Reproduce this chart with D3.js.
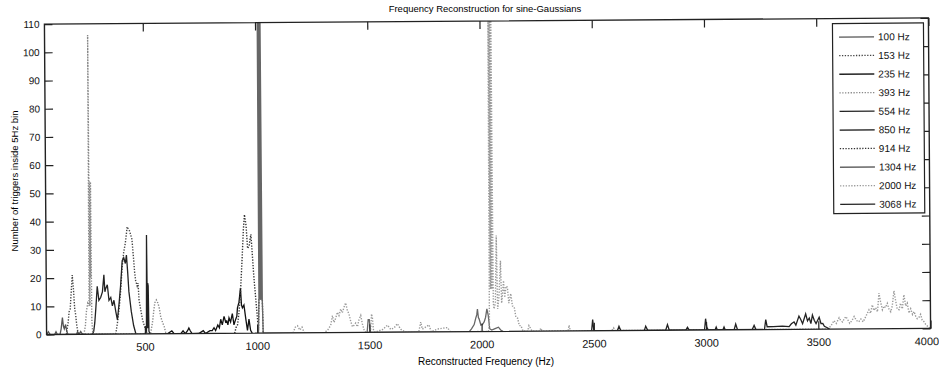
<!DOCTYPE html>
<html>
<head>
<meta charset="utf-8">
<script src="https://cdn.jsdelivr.net/npm/d3@7"></script>
<style>
body { margin: 0; background: #fff; }
svg { font-family: "Liberation Sans", Arial, sans-serif; }
</style>
</head>
<body>
<svg id="svg" width="939" height="373"></svg>
<script>
// legend names, one per series
var names = ["100 Hz", "153 Hz", "235 Hz", "393 Hz", "554 Hz", "850 Hz", "914 Hz", "1304 Hz", "2000 Hz", "3068 Hz"];

// [reconstructed frequency (Hz), triggers in 5Hz bin]
var s100 = [[62,0],[70,1],[78,0],[98,0],[104,1],[110,0],[122,0],[127,2],[133,6],[137,3],[141,2],[147,3.5],[152,1],[158,0],[195,0],[200,1],[206,0],[214,1],[222,0]];
var s153 = [[150,0],[158,4],[163,8],[168,9],[172,14],[178,21],[183,16],[188,9],[192,7],[197,3],[203,0],[370,0],[378,4],[386,9],[393,15],[401,24],[408,29],[415,32],[420,35],[424,38],[430,37],[435,36.5],[440,35],[445,33.6],[452,26.4],[456,22],[460,19],[467,17],[471,18],[475,12],[482,8.6],[490,5],[497,3],[505,1],[512,0]];
var s235 = [[266,0],[272,1],[277,4],[282,9],[289,17],[296,12],[304,13],[312,15],[319,21],[323,15],[326,16],[334,17.5],[341,12],[349,13],[356,10],[363,12],[371,8],[378,5],[386,11],[393,17],[401,26],[408,27],[415,25],[420,28],[425,22],[430,15],[440,8],[450,3],[460,0]];
var s393 = [[228,0],[235,3],[240,8],[246,11],[252,10],[254,106],[256,10],[258,54],[260,20],[262,54],[264,5],[268,0],[525,0],[534,4],[540,8],[545,11],[552,12],[558,11],[564,9.5],[571,6],[579,4],[586,2.6],[594,0]];
var s554 = [[500,0],[507,1],[510,35],[512,2],[514,18],[516,17],[518,1],[522,0]];
var s850 = [[600,0],[620,1],[630,0],[660,0],[670,1],[680,0],[690,1],[696,2],[702,1],[710,0],[740,0],[760,1],[770,0],[790,1],[800,1],[808,2],[815,1],[825,3],[832,2],[838,5],[845,3],[853,6],[860,4],[865,4.4],[870,3],[875,5.5],[882,4],[890,7],[897,3],[905,5],[910,6],[913,9],[920,11],[927,16],[931,10],[935,9],[942,10],[950,5],[957,1],[964,5],[971,1],[978,0]];
var s914 = [[900,0],[906,2],[913,3],[920,7.5],[927,14.6],[935,26],[942,37],[947,42],[954,38],[960,30],[967,31],[975,35],[980,29],[987,20],[994,13],[1002,5],[1006,1],[1009,12],[1024,12],[1027,0]];
var s1304 = [[1006,0],[1009,12],[1010,130],[1012,12],[1014,130],[1016,12],[1018,130],[1020,12],[1022,130],[1024,11],[1027,0],[1490,0],[1495,4.5],[1500,4.5],[1505,0],[1945,0],[1955,1],[1967,2.5],[1974,4.7],[1979,6],[1982,8],[1986,5],[1989,4.5],[1997,2.3],[2004,2.5],[2012,3.5],[2018,5],[2024,8],[2030,5.7],[2036,1],[2045,0.5],[2060,1],[2075,1.5],[2085,0.5],[2095,0]];
var s2000 = [[1160,0],[1170,2],[1180,2.5],[1190,1],[1200,2],[1210,0],[1300,0],[1315,1],[1328,2.6],[1336,6],[1343,3.6],[1350,5],[1358,7.2],[1365,6],[1373,8.3],[1380,7],[1388,9],[1395,10.5],[1402,8],[1410,6.4],[1417,4],[1425,2],[1432,2.5],[1439,3.3],[1447,2],[1454,4.5],[1462,6],[1469,3],[1476,1],[1484,0],[1505,0],[1510,6.5],[1514,5],[1518,1],[1525,0],[1560,1],[1581,2.5],[1595,1],[1610,1.5],[1625,3],[1632,2],[1640,1],[1660,0],[1720,0],[1729,3.5],[1736,1],[1766,2.5],[1775,0],[1803,1],[1848,1.5],[1860,0],[2030,0],[2035,3],[2038,130],[2041,15],[2044,130],[2047,15],[2050,130],[2053,10],[2056,8],[2062,10],[2068,34],[2072,8],[2078,12],[2086,25],[2090,10],[2095,14],[2099,18],[2104,12],[2110,16],[2116,15.7],[2122,10],[2131,13.4],[2138,9],[2146,8.6],[2153,5],[2161,4.6],[2168,2],[2175,2],[2185,0],[2205,0],[2211,2],[2218,1],[2225,0],[2260,0],[2263,1],[2270,0],[2385,0],[2390,2],[2395,0],[2580,0],[2588,1],[2595,0],[3540,0],[3555,1],[3563,2],[3570,3],[3580,2],[3593,4],[3600,3],[3608,2.5],[3615,3.5],[3623,4.4],[3630,3.5],[3640,2],[3650,3],[3660,4.4],[3670,3],[3680,2.5],[3690,3.5],[3700,2.5],[3712,4.4],[3726,6.7],[3733,5.5],[3741,8.5],[3748,6.5],[3756,7.5],[3764,6],[3771,12.6],[3778,9.6],[3786,6.7],[3793,8],[3800,7.5],[3808,9],[3815,7],[3823,6],[3830,8],[3838,13.4],[3845,10],[3852,7],[3860,6.7],[3867,9],[3875,7],[3882,12],[3890,8],[3897,9],[3904,5.5],[3912,7],[3920,5],[3927,6],[3934,4.4],[3941,3.5],[3949,4],[3956,5],[3963,3],[3970,2.5],[3978,1.5],[3990,0.5],[4000,0]];
var s3068 = [[2490,0],[2495,4],[2500,0],[2605,0],[2612,1.5],[2620,0],[2725,0],[2731,1.5],[2740,0],[2820,0],[2828,2],[2836,0],[2910,0],[2917,1],[2925,0],[2993,0],[2998,4],[3003,1],[3010,0],[3040,0],[3045,1],[3050,0],[3075,0],[3080,1],[3085,0],[3125,0],[3132,2],[3140,0],[3205,0],[3214,1.5],[3222,0],[3260,0],[3266,3.5],[3272,1],[3300,1],[3340,1.2],[3370,1],[3380,2],[3392,2.6],[3400,1.5],[3414,4.7],[3422,3.5],[3430,2],[3444,5.5],[3452,3],[3460,4],[3467,2],[3474,5],[3482,3.2],[3490,2],[3504,4.2],[3512,2],[3520,2],[3527,1],[3540,0.5],[3550,0]];

var seriesData = [s100, s153, s235, s393, s554, s850, s914, s1304, s2000, s3068];

var xTicks = [500, 1000, 1500, 2000, 2500, 3000, 3500, 4000];
var yTicks = [0, 10, 20, 30, 40, 50, 60, 70, 80, 90, 100, 110];

// drawing styles (scanned print: greys, solid and dotted)
var colors = ["#555", "#444", "#222", "#888", "#222", "#111", "#333", "#666", "#999", "#222"];
var dashes = [null, "1.3,1.5", null, "1.3,1.5", null, null, "1.3,1.5", null, "1.3,1.5", null];

var L = 45.5, R = 929.5, T = 21, B = 331.5;

var svg = d3.select("#svg");
var x = d3.scaleLinear().domain([62, 4000]).range([L, R]);
var y = d3.scaleLinear().domain([0, 110]).range([B, T]);

svg.append("defs").append("clipPath").attr("id", "clip")
  .append("rect").attr("x", L).attr("y", T).attr("width", R - L).attr("height", B - T);

// the scan is tilted a little
var g = svg.append("g").attr("transform", "rotate(-0.4,487,176)");

var line = d3.line()
  .x(function(d){ return x(d[0]); })
  .y(function(d){ return y(d[1]); });

var plot = g.append("g").attr("clip-path", "url(#clip)");
seriesData.forEach(function(s, i){
  plot.append("path")
    .attr("d", line(s))
    .attr("fill", "none")
    .attr("stroke", colors[i])
    .attr("stroke-width", dashes[i] ? 1.4 : 1.3)
    .attr("stroke-dasharray", dashes[i]);
});

// axes, MATLAB style ticks pointing in
var axisStyle = function(sel){
  sel.select(".domain").remove();
  sel.selectAll(".tick line").attr("stroke", "#222").attr("stroke-width", 1.2);
  sel.selectAll("text").attr("fill", "#111");
};
var plain = function(d){ return String(d); };
var xAx = g.append("g").attr("transform", "translate(0," + B + ")")
  .call(d3.axisBottom(x).tickValues(xTicks).tickFormat(plain).tickSizeInner(-8).tickSizeOuter(0).tickPadding(9))
  .call(axisStyle);
xAx.selectAll("text").style("font-size", "11px");
// last label sits on the page edge
xAx.selectAll(".tick").filter(function(d){ return d === 4000; })
  .select("text").attr("text-anchor", "end").attr("x", 8);
g.append("g").attr("transform", "translate(0," + T + ")")
  .call(d3.axisTop(x).tickValues(xTicks).tickSizeInner(-8).tickSizeOuter(0).tickFormat(""))
  .call(axisStyle);
g.append("g").attr("transform", "translate(" + L + ",0)")
  .call(d3.axisLeft(y).tickValues(yTicks).tickFormat(plain).tickSizeInner(-8).tickSizeOuter(0).tickPadding(5))
  .call(axisStyle).selectAll("text").style("font-size", "10px");
g.append("g").attr("transform", "translate(" + R + ",0)")
  .call(d3.axisRight(y).tickValues(yTicks).tickSizeInner(-8).tickSizeOuter(0).tickFormat(""))
  .call(axisStyle);

g.append("rect")
  .attr("x", L).attr("y", T).attr("width", R - L).attr("height", B - T)
  .attr("fill", "none").attr("stroke", "#222").attr("stroke-width", 1.4);

// legend
var lg = g.append("g");
lg.append("rect")
  .attr("x", 833.5).attr("y", 26).attr("width", 91).attr("height", 190)
  .attr("fill", "#fff").attr("stroke", "#222").attr("stroke-width", 1.2);
names.forEach(function(n, i){
  var ly = 39.5 + i * 18.6;
  lg.append("line")
    .attr("x1", 840).attr("x2", 875).attr("y1", ly).attr("y2", ly)
    .attr("stroke", colors[i]).attr("stroke-width", 1.3)
    .attr("stroke-dasharray", dashes[i]);
  lg.append("text")
    .attr("x", 879).attr("y", ly + 3.6)
    .style("font-size", "10px").attr("fill", "#111")
    .text(n);
});

// titles
svg.append("text")
  .attr("x", 485).attr("y", 11.5).attr("text-anchor", "middle")
  .style("font-size", "9.5px").attr("fill", "#000")
  .text("Frequency Reconstruction for sine-Gaussians");
svg.append("text")
  .attr("x", 486).attr("y", 364.5).attr("text-anchor", "middle")
  .style("font-size", "10px").attr("fill", "#000")
  .text("Reconstructed Frequency (Hz)");
svg.append("text")
  .attr("transform", "translate(17.5,181) rotate(-90)")
  .attr("text-anchor", "middle")
  .style("font-size", "9.5px").attr("fill", "#000")
  .text("Number of triggers inside 5Hz bin");
</script>
</body>
</html>
